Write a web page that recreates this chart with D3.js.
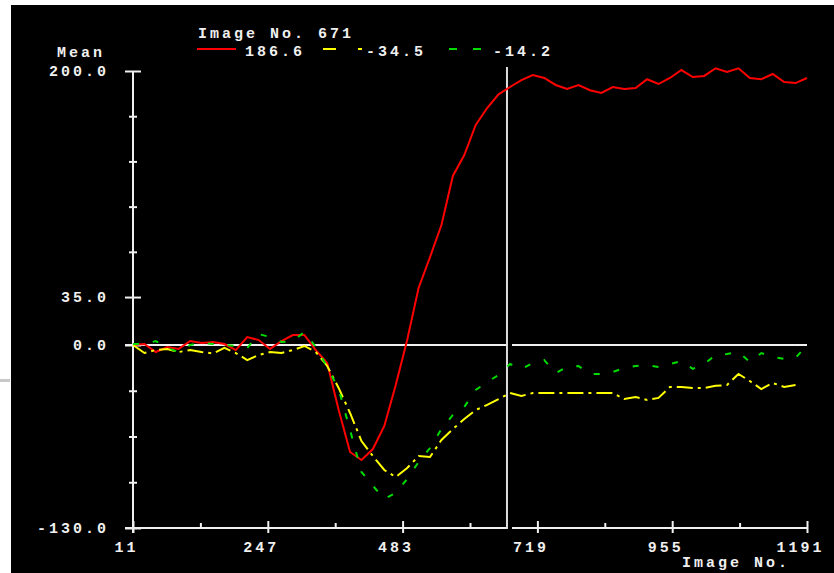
<!DOCTYPE html>
<html>
<head>
<meta charset="utf-8">
<script src="https://cdn.jsdelivr.net/npm/d3@7"></script>
<style>
  html, body { margin: 0; padding: 0; background: #fff; }
  svg text { font-family: "Liberation Mono", "DejaVu Sans Mono", monospace; font-size: 15px; font-weight: bold; fill: #f0f0f0; letter-spacing: 3px; }
</style>
</head>
<body>
<div id="chart"></div>
<script>
// image numbers, sampled every 20
const imageNo = d3.range(60).map(i => 11 + i * 20);

const redValues = [0, 0.7, -5, -1.4, -2.8, 2.9, 1.5, 2.2, 0.7, -3.6,
  5.8, 3.6, -2.8, 2.9, 7.3, 7.3, -3.6, -12.8, -46, -76,
  -81.7, -73.9, -57.5, -28.4, 3.6, 41.6, 64.2, 87.6, 123.4, 138.7,
  160.6, 173, 183, 188.3, 193.4, 197, 194.9, 189.8, 186.9, 189.8,
  186, 184, 188.3, 186.9, 187.6, 194, 190.5, 194.9, 200.7, 195.6,
  196.4, 202, 199.3, 202, 194.9, 194, 197.8, 192, 191.2, 194.9];

const yellowValues = [0, -5.7, -3.5, -2.8, -5, -3.6, -5, -6, -2.1, -5.7,
  -10.7, -7.1, -5, -5.7, -3.6, -0.7, -5, -14.9, -30.5, -48.3,
  -68.2, -78.9, -88.8, -93.8, -87.4, -78.9, -79.6, -67.5, -59.7, -52.6,
  -46.2, -42.6, -38.4, -34.1, -36.2, -34.1, -34.1, -34.1, -34.1, -34.1,
  -34.1, -34.1, -34.1, -38.4, -37, -39, -37.6, -29.8, -29.8, -30.5,
  -30.5, -29, -28.4, -20.6, -25.6, -31.3, -27, -29.8, -28.4, null];

const greenValues = [0.7, 0.7, 2.9, -2.1, -5, 0, 1.5, 0.7, 0, -0.7,
  -2.1, 8, 5.8, 2.2, 2.9, 9.5, -1.4, -15.6, -31.3, -60.4,
  -90.2, -100, -109.4, -105, -95.2, -83.1, -73.2, -59.7, -49.7, -44,
  -32, -26.3, -21.3, -13.5, -17, -12.8, -10.7, -19.9, -15.6, -14.9,
  -20.6, -20.6, -19.2, -16.3, -14.9, -14.2, -15.6, -13.5, -11.4, -17,
  -13.5, -7.1, -6.4, -5, -12, -5.7, -8.5, -9.9, -9.2, 0];

const xTicks = [11, 247, 483, 719, 955, 1191];
const xMinorTicks = [129, 365, 601, 837, 1073];
const yTicks = [200, 35, 0, -130];
const yMinorTicks = [167, 134, 101, 68, -32.5, -65, -97.5];

const cursorImage = 671;
const legendValues = ["186.6", "-34.5", "-14.2"];

const width = 834, height = 573;

const svg = d3.select("#chart").append("svg")
    .attr("width", width)
    .attr("height", height);

svg.append("rect")
    .attr("x", 11).attr("y", 5)
    .attr("width", width - 11).attr("height", height - 5)
    .attr("fill", "#000");

svg.append("rect")
    .attr("x", 0).attr("y", 379)
    .attr("width", 10).attr("height", 3)
    .attr("fill", "#c8c8c8");

const x = d3.scaleLinear().domain([11, 1191]).range([133, 807]);
const y = d3.scaleLinear().domain([-130, 0, 200]).range([528, 345, 71]);

const white = "#f0f0f0";

function styleAxis(g) {
    g.select(".domain").remove();
    g.selectAll(".tick line").attr("stroke", white).attr("stroke-width", 2);
    g.selectAll(".tick text").attr("fill", white).attr("font-family", null).attr("font-size", null);
}

// y axis
svg.append("line")
    .attr("x1", x(11)).attr("x2", x(11))
    .attr("y1", y(200)).attr("y2", y(-130) + 5)
    .attr("stroke", white).attr("stroke-width", 2);

svg.append("g")
    .attr("transform", `translate(${x(11)},0)`)
    .call(d3.axisLeft(y).tickValues(yTicks).tickSize(8).tickPadding(16)
        .tickFormat(d => d.toFixed(1)))
    .call(styleAxis);
svg.append("g")
    .attr("transform", `translate(${x(11)},0)`)
    .call(d3.axisRight(y).tickValues(yTicks).tickSize(8).tickFormat(""))
    .call(styleAxis);
svg.append("g")
    .attr("transform", `translate(${x(11)},0)`)
    .call(d3.axisLeft(y).tickValues(yMinorTicks).tickSize(4).tickFormat(""))
    .call(styleAxis);
svg.append("g")
    .attr("transform", `translate(${x(11)},0)`)
    .call(d3.axisRight(y).tickValues(yMinorTicks).tickSize(4).tickFormat(""))
    .call(styleAxis);

// x axis
svg.append("line")
    .attr("x1", x(11) - 8).attr("x2", x(1191))
    .attr("y1", y(-130)).attr("y2", y(-130))
    .attr("stroke", white).attr("stroke-width", 2);

svg.append("g")
    .attr("transform", `translate(0,${y(-130)})`)
    .call(d3.axisBottom(x).tickValues(xTicks).tickSize(5).tickPadding(8)
        .tickFormat(d => String(d)))
    .call(styleAxis)
    .selectAll(".tick text").attr("dx", -7);
svg.append("g")
    .attr("transform", `translate(0,${y(-130)})`)
    .call(d3.axisTop(x).tickValues(xTicks).tickSize(7).tickFormat(""))
    .call(styleAxis);
svg.append("g")
    .attr("transform", `translate(0,${y(-130)})`)
    .call(d3.axisTop(x).tickValues(xMinorTicks).tickSize(5).tickFormat(""))
    .call(styleAxis);

// zero line
svg.append("line")
    .attr("x1", x(11) - 8).attr("x2", x(1191))
    .attr("y1", y(0)).attr("y2", y(0))
    .attr("stroke", white).attr("stroke-width", 2);

// cursor, with the small break it leaves in the horizontal lines
const cx = x(cursorImage) - 3;
[y(0), y(-130)].forEach(yy => {
    svg.append("rect")
        .attr("x", cx + 1).attr("y", yy - 1.5)
        .attr("width", 4).attr("height", 3)
        .attr("fill", "#000");
});
svg.append("line")
    .attr("x1", cx).attr("x2", cx)
    .attr("y1", 67).attr("y2", y(-130) + 1)
    .attr("stroke", "#dcdcdc").attr("stroke-width", 2);

// series
const series = [
    { values: redValues, color: "#ff0000", dash: null },
    { values: yellowValues, color: "#ffff00", dash: "16,5,3,5" },
    { values: greenValues, color: "#00dd00", dash: "6,14" }
];

const line = d3.line()
    .defined(d => d[1] !== null)
    .x(d => x(d[0]))
    .y(d => y(d[1]));

series.forEach(s => {
    svg.append("path")
        .datum(imageNo.map((n, i) => [n, s.values[i]]))
        .attr("fill", "none")
        .attr("stroke", s.color)
        .attr("stroke-width", 2)
        .attr("stroke-dasharray", s.dash)
        .attr("d", line);
});

// texts
svg.append("text").attr("x", 57).attr("y", 57).text("Mean");
svg.append("text").attr("x", 198).attr("y", 38).text(`Image No. ${cursorImage}`);
svg.append("text").attr("x", 682).attr("y", 567).text("Image No.");

// legend
const legendY = 49;
svg.append("line").attr("x1", 197).attr("x2", 236).attr("y1", legendY).attr("y2", legendY)
    .attr("stroke", "#ff0000").attr("stroke-width", 2);
svg.append("text").attr("x", 245).attr("y", 56).text(legendValues[0]);

svg.append("line").attr("x1", 323).attr("x2", 363).attr("y1", legendY).attr("y2", legendY)
    .attr("stroke", "#ffff00").attr("stroke-width", 2).attr("stroke-dasharray", "13,22,4,100");
svg.append("text").attr("x", 366).attr("y", 56).text(legendValues[1]);

svg.append("line").attr("x1", 449).attr("x2", 483).attr("y1", legendY).attr("y2", legendY)
    .attr("stroke", "#00dd00").attr("stroke-width", 2).attr("stroke-dasharray", "8,16");
svg.append("text").attr("x", 493).attr("y", 56).text(legendValues[2]);
</script>
</body>
</html>
